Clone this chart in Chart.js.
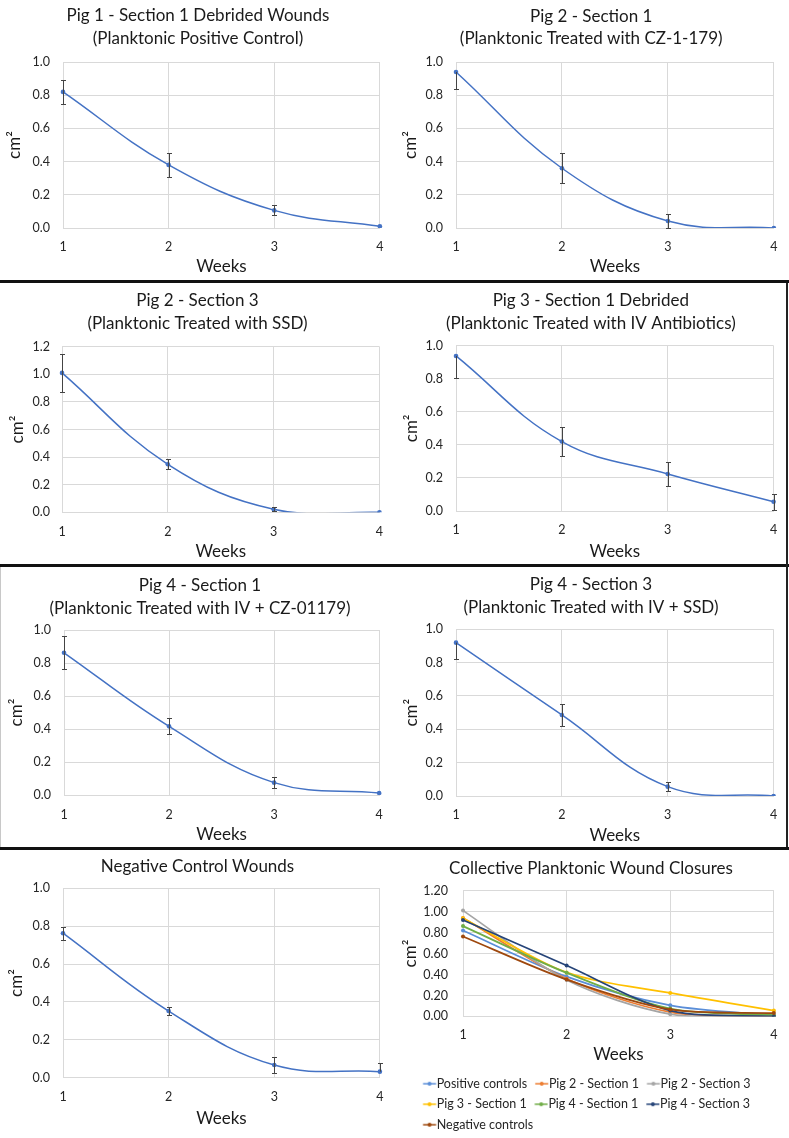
<!DOCTYPE html>
<html>
<head>
<meta charset="utf-8">
<script src="https://cdn.jsdelivr.net/npm/chart.js@4.4.1/dist/chart.umd.min.js"></script>
<style>
html,body{margin:0;padding:0;background:#fff;}
#page{position:relative;width:789px;height:1138px;overflow:hidden;background:#fff;}
#page canvas{position:absolute;}
.sep{position:absolute;left:0;width:789px;height:3px;background:#111;}
.vline{position:absolute;}
</style>
</head>
<body>
<div id="page">
  <canvas id="c1"></canvas>
  <canvas id="c2"></canvas>
  <canvas id="c3"></canvas>
  <canvas id="c4"></canvas>
  <canvas id="c5"></canvas>
  <canvas id="c6"></canvas>
  <canvas id="c7"></canvas>
  <canvas id="c8"></canvas>
  <div class="sep" style="top:280px"></div>
  <div class="sep" style="top:564px"></div>
  <div class="sep" style="top:847px"></div>
  <div class="vline" style="left:786px;top:283px;width:2px;height:564px;background:#222"></div>
  <div class="vline" style="left:0;top:567px;width:1px;height:280px;background:#c8c8c8"></div>
</div>
<script>
// ---------------- DATA ----------------
const weeks = ['1', '2', '3', '4'];

const positiveControl    = [0.82, 0.38, 0.106, 0.01];
const positiveControlErr = [0.072, 0.07, 0.03, 0];

const pig2Section1    = [0.94, 0.36, 0.042, 0.0];
const pig2Section1Err = [0.10, 0.09, 0.04, 0];

const pig2Section3    = [1.01, 0.348, 0.022, 0.0];
const pig2Section3Err = [0.14, 0.036, 0.015, 0];

const pig3Section1    = [0.938, 0.42, 0.224, 0.056];
const pig3Section1Err = [0.135, 0.088, 0.071, 0.047];

const pig4Section1    = [0.862, 0.416, 0.075, 0.012];
const pig4Section1Err = [0.10, 0.048, 0.033, 0];

const pig4Section3    = [0.92, 0.486, 0.056, 0.0];
const pig4Section3Err = [0.10, 0.067, 0.028, 0];

const negativeControl    = [0.763, 0.352, 0.067, 0.032];
const negativeControlErr = [0.035, 0.02, 0.043, 0.044];

const yTicks1 = [0, 0.2, 0.4, 0.6, 0.8, 1.0];
const yTicks12 = [0, 0.2, 0.4, 0.6, 0.8, 1.0, 1.2];

const collectiveLabels = ['Positive controls', 'Pig 2 - Section 1', 'Pig 2 - Section 3',
  'Pig 3 - Section 1', 'Pig 4 - Section 1', 'Pig 4 - Section 3', 'Negative controls'];
const collectiveSeries = [positiveControl, pig2Section1, pig2Section3, pig3Section1,
  pig4Section1, pig4Section3, negativeControl];

const titles = [
  ['Pig 1 - Section 1 Debrided Wounds', '(Planktonic Positive Control)'],
  ['Pig 2 - Section 1', '(Planktonic Treated with CZ-1-179)'],
  ['Pig 2 - Section 3', '(Planktonic Treated with SSD)'],
  ['Pig 3 - Section 1 Debrided', '(Planktonic Treated with IV Antibiotics)'],
  ['Pig 4 - Section 1', '(Planktonic Treated with IV + CZ-01179)'],
  ['Pig 4 - Section 3', '(Planktonic Treated with IV + SSD)'],
  ['Negative Control Wounds'],
  ['Collective Planktonic Wound Closures']
];
const xTitleText = 'Weeks';
const yTitleText = 'cm\u00B2';

// ---------------- STYLE ----------------
const FONT = "Lato, 'Open Sans', sans-serif";
const TITLE_SIZE = 17, TITLE_LH = 22.5;
const AX_SIZE = 17, AX_LH = AX_SIZE * 1.2;
const TICK_SIZE = 12.5, TICK_LH = TICK_SIZE * 1.2;
const LEG_SIZE = 12.5, LEG_PAD = 8;
const LINE_BLUE = '#4472C4';
const GRID = '#d9d9d9';
const ERR_COLOR = '#444444';
const TEXT = '#1a1a1a';
const TICK_TEXT = '#262626';
const collectiveColors = ['#5a8ed8', '#ED7D31', '#A5A5A5', '#FFC000', '#70AD47', '#264478', '#9E480E'];

// ---------------- LAYOUT (pixel geometry of each panel) ----------------
const panels = [
  {id:'c1', left:0,   top:0,   w:395, h:280, plotL:63, plotR:386, plotT:62,   plotB:228,   t1:16,   tc:198,   xTick:247,   xTitle:267,   yTitle:15,   yPad:13},
  {id:'c2', left:395, top:0,   w:394, h:280, plotL:61, plotR:383, plotT:62,   plotB:228,   t1:16.5, tc:196.2, xTick:247,   xTitle:267,   yTitle:15.5, yPad:13},
  {id:'c3', left:0,   top:283, w:395, h:281, plotL:62, plotR:386, plotT:63.7, plotB:229.3, t1:17.7, tc:197.5, xTick:248.7, xTitle:268.7, yTitle:17.3, yPad:12},
  {id:'c4', left:395, top:283, w:394, h:281, plotL:61, plotR:383, plotT:62.7, plotB:228,   t1:17.7, tc:195.8, xTick:247.3, xTitle:268.7, yTitle:16.7, yPad:13},
  {id:'c5', left:0,   top:567, w:395, h:280, plotL:64, plotR:392, plotT:63,   plotB:228,   t1:18.7, tc:200,   xTick:247.7, xTitle:268,   yTitle:16.7, yPad:13},
  {id:'c6', left:395, top:567, w:394, h:280, plotL:61, plotR:383, plotT:62.3, plotB:229,   t1:18,   tc:196,   xTick:248.3, xTitle:268.8, yTitle:16.7, yPad:13},
  {id:'c7', left:0,   top:850, w:395, h:288, plotL:63, plotR:386, plotT:38.3, plotB:227.7, t1:16.7, tc:197.5, xTick:246.7, xTitle:268.7, yTitle:16.7, yPad:13},
  {id:'c8', left:395, top:850, w:394, h:291, plotL:68, plotR:384, plotT:40.7, plotB:166.7, t1:19,   tc:196,   xTick:185.7, xTitle:205,   yTitle:15.7, yPad:15, legendTop:219.75, legendX:28}
];

// ---------------- PLUGINS ----------------
const errorBarPlugin = {
  id: 'errorBars',
  afterDatasetsDraw(chart) {
    const {ctx, scales: {y}} = chart;
    chart.data.datasets.forEach((ds, i) => {
      if (!ds.errors) return;
      const meta = chart.getDatasetMeta(i);
      ctx.save();
      ctx.strokeStyle = ERR_COLOR;
      ctx.lineWidth = 1;
      ds.data.forEach((v, j) => {
        const e = ds.errors[j];
        if (!e) return;
        const x = Math.round(meta.data[j].x) + 0.5;
        const py = y.getPixelForValue(v);
        const ends = [];
        if (v + e <= y.max + 1e-9) ends.push(y.getPixelForValue(v + e));
        if (v - e >= y.min - 1e-9) ends.push(y.getPixelForValue(v - e));
        ends.forEach(ey => {
          const cy = Math.round(ey) + 0.5;
          ctx.beginPath();
          ctx.moveTo(x, py);
          ctx.lineTo(x, cy);
          ctx.moveTo(x - 2.5, cy);
          ctx.lineTo(x + 2.5, cy);
          ctx.stroke();
        });
      });
      ctx.restore();
    });
  }
};

function legendMarker(color) {
  const c = document.createElement('canvas');
  c.width = 20; c.height = 8;
  const g = c.getContext('2d');
  g.strokeStyle = color; g.lineWidth = 1.5;
  g.beginPath(); g.moveTo(6.3, 4); g.lineTo(19.3, 4); g.stroke();
  g.fillStyle = color;
  g.beginPath(); g.arc(12.8, 4, 2, 0, Math.PI * 2); g.fill();
  return c;
}

// ---------------- BUILD ----------------
function buildChart(p, title, datasets, yMax, yStep, dec, withLegend) {
  const cv = document.getElementById(p.id);
  cv.width = p.w; cv.height = p.h;
  cv.style.left = p.left + 'px'; cv.style.top = p.top + 'px';
  const padR = p.w - p.plotR;
  const padL = 2 * p.tc - p.plotR;
  const nLines = title.length;
  const tPadTop = p.t1 - TITLE_LH / 2;
  const tPadBot = p.plotT - tPadTop - nLines * TITLE_LH;
  const bottomEdge = p.legendTop !== undefined ? p.legendTop : p.h;
  const plugins = [errorBarPlugin];
  if (withLegend) {
    plugins.push({
      id: 'legendShift',
      afterLayout(chart) {
        chart.legend.left += (p.legendX - LEG_PAD - chart.legend.left);
      }
    });
  }
  const markers = datasets.map(d => legendMarker(d.borderColor));
  return new Chart(cv, {
    type: 'line',
    data: { labels: weeks, datasets },
    plugins,
    options: {
      responsive: false,
      animation: false,
      layout: { padding: { left: padL, right: padR, top: 0, bottom: 0 } },
      elements: { line: { capBezierPoints: false } },
      plugins: {
        tooltip: { enabled: false },
        title: {
          display: true, text: title, color: TEXT,
          font: { family: FONT, size: TITLE_SIZE, weight: 'normal', lineHeight: TITLE_LH + 'px' },
          padding: { top: tPadTop, bottom: tPadBot }
        },
        legend: withLegend ? {
          display: true, position: 'bottom', align: 'start',
          labels: {
            font: { family: FONT, size: LEG_SIZE }, color: TICK_TEXT,
            padding: LEG_PAD, usePointStyle: true, pointStyleWidth: 13.7 - LEG_SIZE / 2,
            generateLabels: (chart) => chart.data.datasets.map((d, i) => ({
              text: d.label, pointStyle: markers[i], fillStyle: d.borderColor,
              strokeStyle: d.borderColor, lineWidth: 0, hidden: false, datasetIndex: i,
              fontColor: TICK_TEXT
            }))
          }
        } : { display: false }
      },
      scales: {
        x: {
          type: 'category', offset: false,
          grid: { color: GRID, drawTicks: false, lineWidth: 1 },
          border: { color: GRID },
          ticks: { color: TICK_TEXT, font: { family: FONT, size: TICK_SIZE }, padding: p.xTick - p.plotB - TICK_LH / 2, maxRotation: 0 },
          title: { display: true, text: xTitleText, color: TEXT, font: { family: FONT, size: AX_SIZE }, padding: { top: 0, bottom: bottomEdge - AX_LH / 2 - p.xTitle } },
          afterFit(s) { s.height = bottomEdge - p.plotB; }
        },
        y: {
          min: 0, max: yMax,
          grid: { color: GRID, drawTicks: false, lineWidth: 1 },
          border: { color: GRID },
          ticks: { stepSize: yStep, color: TICK_TEXT, font: { family: FONT, size: TICK_SIZE }, padding: p.yPad,
                   callback: (v) => Number(v).toFixed(dec) },
          title: { display: true, text: yTitleText, color: TEXT, font: { family: FONT, size: AX_SIZE }, padding: { top: p.yTitle - padL - AX_LH / 2, bottom: 0 } },
          afterFit(s) { s.width = p.plotL - padL; }
        }
      }
    }
  });
}

function single(values, errors) {
  return [{
    label: 'series', data: values, errors,
    borderColor: LINE_BLUE, backgroundColor: LINE_BLUE,
    borderWidth: 1.5, pointRadius: 2.3, pointBorderWidth: 0,
    pointBackgroundColor: LINE_BLUE, tension: 0.4
  }];
}

const singles = [
  [positiveControl, positiveControlErr, yTicks1],
  [pig2Section1, pig2Section1Err, yTicks1],
  [pig2Section3, pig2Section3Err, yTicks12],
  [pig3Section1, pig3Section1Err, yTicks1],
  [pig4Section1, pig4Section1Err, yTicks1],
  [pig4Section3, pig4Section3Err, yTicks1],
  [negativeControl, negativeControlErr, yTicks1]
];

singles.forEach((s, i) => {
  const ticks = s[2];
  buildChart(panels[i], titles[i], single(s[0], s[1]), ticks[ticks.length - 1], ticks[1] - ticks[0], 1, false);
});

const collectiveDatasets = collectiveSeries.map((vals, i) => ({
  label: collectiveLabels[i], data: vals,
  borderColor: collectiveColors[i], backgroundColor: collectiveColors[i],
  borderWidth: 1.75, pointRadius: 2, pointBorderWidth: 0,
  pointBackgroundColor: collectiveColors[i], tension: 0.3,
  order: collectiveSeries.length - i
}));
buildChart(panels[7], titles[7], collectiveDatasets, yTicks12[yTicks12.length - 1], yTicks12[1] - yTicks12[0], 2, true);
</script>
</body>
</html>
